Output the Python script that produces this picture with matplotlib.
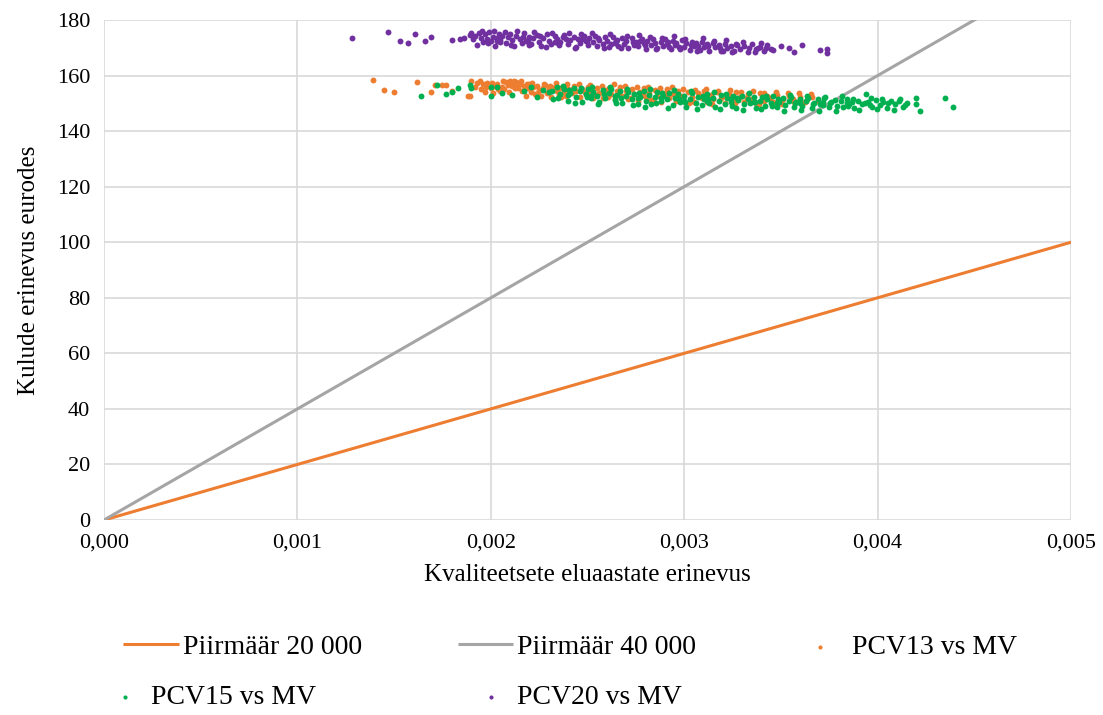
import numpy as np
import matplotlib
matplotlib.use("Agg")
import matplotlib.pyplot as plt
from matplotlib.ticker import FuncFormatter

plt.rcParams['font.family'] = ['Liberation Serif', 'DejaVu Serif']

# Piirmäärad (eurot kvaliteetse eluaasta kohta)
piirmaarad = [20000, 40000]
piir_nimed = ['Piirmäär 20 000', 'Piirmäär 40 000']
x_otsad = [0.0, 0.005]

# QALY vahed on kirjas tuhandikes, kulude vahed eurodes
pcv13_x = [1.39, 1.45, 1.50, 1.62, 1.69, 1.71, 1.75, 1.77, 1.80, 1.88, 1.89, 1.90,
           1.92, 1.93, 1.95, 1.96, 1.97, 1.98, 2.00, 2.01, 2.02, 2.03,
           2.05, 2.06, 2.07, 2.08, 2.09, 2.10, 2.11, 2.11, 2.12, 2.12,
           2.13, 2.13, 2.14, 2.15, 2.16, 2.17, 2.18, 2.19, 2.20, 2.21,
           2.22, 2.23, 2.24, 2.25, 2.26, 2.27, 2.28, 2.29, 2.30, 2.31,
           2.33, 2.34, 2.35, 2.36, 2.38, 2.39, 2.40, 2.42, 2.43, 2.44,
           2.46, 2.47, 2.49, 2.50, 2.52, 2.53, 2.55, 2.56, 2.58, 2.59,
           2.61, 2.62, 2.64, 2.65, 2.67, 2.68, 2.70, 2.71, 2.73, 2.74,
           2.76, 2.77, 2.79, 2.80, 2.82, 2.83, 2.85, 2.86, 2.88, 2.89,
           2.91, 2.92, 2.94, 2.96, 2.97, 2.99, 3.00, 3.02, 3.04, 3.05,
           3.07, 3.09, 3.10, 3.12, 3.14, 3.15, 3.17, 3.19, 3.21, 3.23,
           3.25, 3.27, 3.29, 3.31, 3.33, 3.35, 3.37, 3.39, 3.41, 3.43,
           3.46, 3.48, 3.51, 3.54, 3.57, 3.60, 3.63, 3.66, 3.69,
           1.945, 1.975, 2.005, 2.035, 2.065, 2.095, 2.125, 2.155, 2.185, 2.215,
           2.245, 2.275, 2.305, 2.335, 2.365, 2.395, 2.425, 2.455, 2.485, 2.515,
           2.545, 2.575, 2.605, 2.635, 2.665, 2.695, 2.725, 2.755, 2.785, 2.815,
           2.845, 2.875, 2.905, 2.935, 2.965, 2.995, 3.025, 3.055, 3.085, 3.115,
           3.145, 3.175, 3.205, 3.235, 3.265, 3.295, 3.325, 3.355, 3.385, 3.415,
           3.445, 3.475, 3.505, 3.535, 3.565, 3.595, 3.625, 3.655]
pcv13_y = [158.4, 154.8, 154.0, 157.7, 154.2, 156.6, 156.6, 156.6, 154.5, 152.6, 152.6, 158.1,
           156.0, 157.2, 155.0, 156.8, 154.2, 157.5, 155.6, 153.8, 156.4, 157.0,
           154.6, 156.0, 155.2, 157.6, 156.6, 158.0, 157.2, 156.2, 158.2, 157.0,
           156.4, 157.8, 155.6, 157.1, 154.4, 156.2, 152.6, 155.5, 156.8, 154.0,
           155.8, 153.2, 156.4, 154.8, 152.8, 155.4, 156.6, 153.9, 155.1, 152.4,
           156.0, 154.4, 153.0, 155.6, 154.0, 152.6, 155.2, 153.6, 156.2, 154.6,
           152.2, 155.0, 153.4, 156.0, 154.2, 152.0, 155.4, 153.8, 151.8, 154.8,
           155.6, 153.2, 151.6, 154.4, 155.8, 152.8, 154.6, 151.4, 155.2, 153.4,
           150.8, 154.0, 155.4, 152.4, 153.8, 151.2, 154.8, 152.6, 150.6, 153.6,
           155.0, 152.0, 153.4, 150.8, 154.4, 152.6, 151.0, 154.0, 152.2, 150.4,
           153.6, 151.8, 154.6, 150.6, 153.0, 151.4, 154.2, 152.0, 150.2, 153.4,
           151.2, 154.0, 152.4, 150.4, 153.2, 151.6, 150.0, 153.6, 151.0, 152.8,
           150.4, 153.0, 151.4, 152.6, 150.6, 152.2, 151.0, 152.4, 150.8,
           157.9, 155.9, 157.2, 155.1, 157.9, 154.0, 155.5, 157.9, 156.9, 157.4,
           153.6, 157.0, 156.4, 157.2, 152.4, 156.8, 155.0, 157.0, 154.0, 156.6,
           153.0, 156.4, 152.4, 156.8, 153.6, 156.2, 152.0, 155.8, 153.0, 156.0,
           150.4, 155.6, 153.2, 155.8, 152.2, 155.2, 150.0, 154.8, 152.8, 155.0,
           149.8, 154.6, 152.6, 154.8, 150.2, 154.2, 151.8, 154.4, 149.6, 153.8,
           152.0, 154.2, 149.8, 153.6, 151.6, 153.8, 150.4, 153.2]

pcv15_x = [1.64, 1.72, 1.77, 1.80, 1.83, 1.89, 1.90, 2.00, 2.00, 2.03, 2.06, 2.11,
           2.17, 2.21, 2.24, 2.27, 2.30, 2.32, 2.34, 2.36, 2.38, 2.40,
           2.41, 2.43, 2.44, 2.46, 2.47, 2.49, 2.50, 2.52, 2.53, 2.55,
           2.56, 2.58, 2.59, 2.61, 2.62, 2.64, 2.65, 2.67, 2.68, 2.70,
           2.71, 2.73, 2.74, 2.76, 2.77, 2.79, 2.80, 2.82, 2.83, 2.85,
           2.86, 2.88, 2.89, 2.91, 2.92, 2.94, 2.95, 2.97, 2.98, 3.00,
           3.01, 3.03, 3.04, 3.06, 3.07, 3.09, 3.10, 3.12, 3.13, 3.15,
           3.16, 3.18, 3.19, 3.21, 3.22, 3.24, 3.25, 3.27, 3.28, 3.30,
           3.31, 3.33, 3.34, 3.36, 3.37, 3.39, 3.40, 3.42, 3.43, 3.45,
           3.46, 3.48, 3.49, 3.51, 3.52, 3.54, 3.55, 3.57, 3.58, 3.60,
           3.61, 3.63, 3.64, 3.66, 3.67, 3.69, 3.70, 3.72, 3.73, 3.75,
           3.76, 3.78, 3.79, 3.81, 3.82, 3.84, 3.85, 3.87, 3.88, 3.90,
           3.92, 3.94, 3.95, 3.97, 3.99, 4.01, 4.03, 4.05, 4.07, 4.09,
           4.11, 4.13, 4.15, 4.20, 4.20, 4.22, 4.35, 4.39,
           2.315, 2.345, 2.375, 2.405, 2.435, 2.465, 2.495, 2.525, 2.555, 2.585,
           2.615, 2.645, 2.675, 2.705, 2.735, 2.765, 2.795, 2.825, 2.855, 2.885,
           2.915, 2.945, 2.975, 3.005, 3.035, 3.065, 3.095, 3.125, 3.155, 3.185,
           3.215, 3.245, 3.275, 3.305, 3.335, 3.365, 3.395, 3.425, 3.455, 3.485,
           3.515, 3.545, 3.575, 3.605, 3.635, 3.665, 3.695, 3.725, 3.755, 3.785,
           3.815, 3.845, 3.875, 3.905, 3.935, 3.965, 3.995, 4.025, 4.055, 4.085,
           4.115, 4.14,
           2.40, 2.52, 2.64, 2.76, 2.88, 3.00, 3.12, 3.24, 3.36, 3.48,
           3.60, 3.72, 3.84, 3.96]
pcv15_y = [152.6, 156.6, 153.4, 154.2, 155.5, 156.6, 155.4, 152.6, 156.0, 156.0, 153.7, 153.0,
           154.4, 155.9, 152.3, 154.8, 154.0, 151.6, 156.0, 153.2, 155.2, 151.0,
           153.8, 155.6, 152.4, 154.6, 150.6, 153.2, 155.0, 151.8, 154.2, 152.8,
           150.4, 154.8, 152.0, 153.6, 155.2, 151.2, 153.0, 154.4, 150.2, 152.6,
           154.0, 151.6, 153.4, 149.8, 152.2, 154.6, 151.0, 153.0, 149.6, 152.4,
           154.0, 150.8, 152.8, 151.4, 153.8, 149.4, 152.0, 153.4, 150.6, 152.6,
           148.8, 151.6, 153.6, 150.2, 152.2, 149.4, 151.4, 153.2, 150.0, 152.0,
           148.6, 151.0, 153.0, 149.8, 151.8, 150.4, 152.6, 148.4, 151.2, 152.8,
           149.6, 151.6, 150.2, 152.4, 148.2, 150.8, 152.2, 149.2, 151.4, 150.0,
           152.6, 148.6, 150.6, 151.8, 149.4, 151.0, 152.4, 148.8, 150.4, 151.6,
           149.0, 150.8, 152.0, 148.4, 150.2, 151.4, 149.6, 150.6, 152.2, 148.8,
           150.4, 151.2, 149.2, 150.8, 148.6, 151.6, 149.8, 150.6, 148.4, 151.0,
           149.6, 153.4, 150.4, 148.8, 151.2, 149.4, 150.6, 148.2, 151.0, 149.8,
           150.8, 148.6, 150.2, 151.9, 149.8, 147.4, 152.0, 148.8,
           154.6, 152.0, 156.4, 154.8, 150.2, 155.6, 152.2, 155.8, 149.8, 153.4,
           156.0, 150.0, 152.0, 155.2, 149.4, 153.8, 148.8, 155.0, 150.0, 153.6,
           148.4, 154.8, 151.6, 150.4, 154.4, 148.0, 152.8, 151.6, 154.2, 147.8,
           153.4, 149.2, 151.8, 147.6, 153.6, 150.6, 147.8, 152.8, 149.2, 151.6,
           147.4, 153.0, 150.2, 147.6, 152.6, 149.8, 147.4, 151.8, 150.0, 147.2,
           152.6, 149.2, 151.6, 147.6, 150.2, 152.0, 147.8, 151.6, 150.0, 147.6,
           151.4, 149.4,
           153.0, 152.8, 152.6, 152.0, 151.8, 151.0, 150.8, 151.4, 150.6, 150.2,
           150.0, 149.4, 150.2, 149.4]

pcv20_x = [1.28, 1.47, 1.53, 1.57, 1.61, 1.66, 1.69, 1.80, 1.84, 1.86,
           1.89, 1.90, 1.91, 1.92, 1.93, 1.94, 1.95, 1.96, 1.97, 1.98,
           1.99, 2.00, 2.01, 2.02, 2.03, 2.04, 2.05, 2.06, 2.08, 2.09,
           2.10, 2.11, 2.12, 2.13, 2.15, 2.16, 2.17, 2.18, 2.20, 2.21,
           2.22, 2.24, 2.25, 2.26, 2.27, 2.29, 2.30, 2.31, 2.33, 2.34,
           2.35, 2.36, 2.38, 2.39, 2.40, 2.41, 2.43, 2.44, 2.45, 2.46,
           2.48, 2.49, 2.50, 2.51, 2.53, 2.54, 2.55, 2.56, 2.58, 2.59,
           2.60, 2.61, 2.63, 2.64, 2.65, 2.66, 2.68, 2.69, 2.70, 2.71,
           2.73, 2.74, 2.75, 2.76, 2.78, 2.79, 2.80, 2.81, 2.83, 2.84,
           2.85, 2.86, 2.88, 2.89, 2.90, 2.91, 2.93, 2.94, 2.95, 2.96,
           2.98, 2.99, 3.00, 3.01, 3.03, 3.04, 3.05, 3.06, 3.08, 3.09,
           3.10, 3.12, 3.13, 3.15, 3.16, 3.18, 3.19, 3.21, 3.22, 3.24,
           3.26, 3.27, 3.29, 3.31, 3.33, 3.35, 3.37, 3.39, 3.41, 3.43, 3.45,
           3.46, 3.50, 3.54, 3.57, 3.61, 3.70, 3.74, 3.74,
           1.955, 1.985, 2.015, 2.045, 2.075, 2.105, 2.135, 2.165, 2.195, 2.225,
           2.255, 2.285, 2.315, 2.345, 2.375, 2.405, 2.435, 2.465, 2.495, 2.525,
           2.555, 2.585, 2.615, 2.645, 2.675, 2.705, 2.735, 2.765, 2.795, 2.825,
           2.855, 2.885, 2.915, 2.945, 2.975, 3.005, 3.035, 3.065, 3.095, 3.125,
           3.155, 3.185, 3.215, 3.245, 3.275, 3.305, 3.335, 3.365, 3.395, 3.425,
           2.03, 2.19, 2.33, 2.47, 2.62, 2.77, 2.92, 3.07, 3.20, 3.38]
pcv20_y = [173.5, 175.8, 172.4, 171.8, 175.0, 172.4, 174.0, 172.8, 173.2, 173.4,
           174.6, 175.5, 173.0, 174.2, 171.0, 175.2, 173.6, 172.2, 174.8, 173.1,
           175.6, 172.6, 174.0, 170.8, 173.5, 175.0, 172.1, 174.4, 171.6, 173.8,
           175.1, 172.9, 170.6, 174.2, 173.0, 171.8, 175.3, 172.4, 174.0, 171.2,
           173.4, 174.6, 172.0, 170.5, 173.6, 175.0, 172.6, 171.4, 174.1, 173.0,
           170.9, 172.2, 174.5, 173.2, 171.5, 172.8, 174.0, 170.4, 173.1, 171.9,
           174.3, 172.5, 171.0, 173.6, 172.0, 174.4, 170.6, 172.9, 171.4, 173.8,
           172.3, 170.2, 174.0, 171.8, 172.9, 170.8, 173.4, 171.5, 172.6, 169.9,
           173.7, 171.1, 172.2, 170.5, 173.0, 171.6, 169.6, 172.5, 170.9, 173.3,
           171.8, 169.8, 172.1, 170.6, 173.0, 171.3, 169.5, 172.4, 170.9, 171.9,
           169.7, 172.8, 170.4, 171.6, 169.3, 172.2, 170.8, 171.7, 169.2, 172.0,
           170.3, 171.3, 168.9, 171.9, 170.2, 171.0, 168.7, 171.5, 169.8, 170.8,
           168.9, 171.4, 169.6, 170.5, 168.6, 171.2, 169.5, 170.4, 168.8, 170.9, 169.6,
           169.2, 170.8, 170.0, 168.6, 171.0, 169.2, 169.6, 168.1,
           176.0, 171.8, 176.2, 172.8, 175.6, 170.9, 176.0, 173.9, 171.0, 175.7,
           174.2, 170.2, 175.4, 171.7, 173.8, 175.5, 169.9, 174.8, 172.3, 175.2,
           173.4, 169.8, 174.8, 172.4, 170.1, 174.4, 172.0, 174.7, 170.9, 173.9,
           169.4, 173.6, 172.2, 174.2, 170.4, 173.2, 171.0, 169.0, 173.4, 170.6,
           172.6, 169.8, 172.8, 168.6, 170.9, 172.2, 170.0, 168.4, 171.8, 169.9,
           172.4, 172.8, 172.0, 173.0, 171.2, 172.3, 170.2, 170.7, 169.0, 170.0]

seeriad = [
    ('PCV13 vs MV', pcv13_x, pcv13_y, '#ED7D31'),
    ('PCV15 vs MV', pcv15_x, pcv15_y, '#00B050'),
    ('PCV20 vs MV', pcv20_x, pcv20_y, '#7030A0'),
]
joone_varvid = ['#ED7D31', '#A5A5A5']

fig = plt.figure(figsize=(11.03, 7.15), dpi=100)
ax = fig.add_axes([0.0943, 0.2727, 0.8767, 0.6993])

jooned = []
for piir, nimi, col in zip(piirmaarad, piir_nimed, joone_varvid):
    xs = np.array(x_otsad)
    ln, = ax.plot(xs, piir * xs, color=col, lw=2.2, label=nimi, zorder=2,
                  solid_capstyle='butt')
    jooned.append(ln)

punktid = []
for nimi, xs, ys, col in seeriad:
    sc = ax.scatter(np.array(xs) / 1000, ys, s=18, color=col, linewidths=0,
                    label=nimi, zorder=3)
    punktid.append(sc)

ax.set_xlim(0, 0.005)
ax.set_ylim(0, 180)
ax.set_xticks(np.arange(0, 0.0051, 0.001))
ax.set_yticks(np.arange(0, 181, 20))
ax.xaxis.set_major_formatter(FuncFormatter(lambda v, p: f'{v:.3f}'.replace('.', ',')))
ax.grid(True, color='#D9D9D9', lw=1.2)
ax.set_axisbelow(True)
for s in ax.spines.values():
    s.set_visible(False)
ax.tick_params(length=0, labelsize=16, pad=10)

ax.set_xlabel('Kvaliteetsete eluaastate erinevus', fontsize=18, labelpad=8)
ax.set_ylabel('Kulude erinevus eurodes', fontsize=18, labelpad=12)

# legend kahes reas nagu Exceli joonisel
rida1 = [jooned[0], jooned[1], punktid[0]]
rida2 = [punktid[1], punktid[2]]
fig.legend(rida1, [h.get_label() for h in rida1], loc='center left',
           bbox_to_anchor=(0.1115, 0.095), ncol=3, frameon=False, fontsize=20,
           borderpad=0, borderaxespad=0, handlelength=2.0, handletextpad=0.15,
           columnspacing=3.45, markerscale=0.7)
fig.legend(rida2, [h.get_label() for h in rida2], loc='center left',
           bbox_to_anchor=(0.095, 0.025), ncol=2, frameon=False, fontsize=20,
           borderpad=0, borderaxespad=0, handlelength=1.45, handletextpad=0.2,
           columnspacing=5.6, markerscale=0.7)

fig.savefig('out.png', dpi=100)
